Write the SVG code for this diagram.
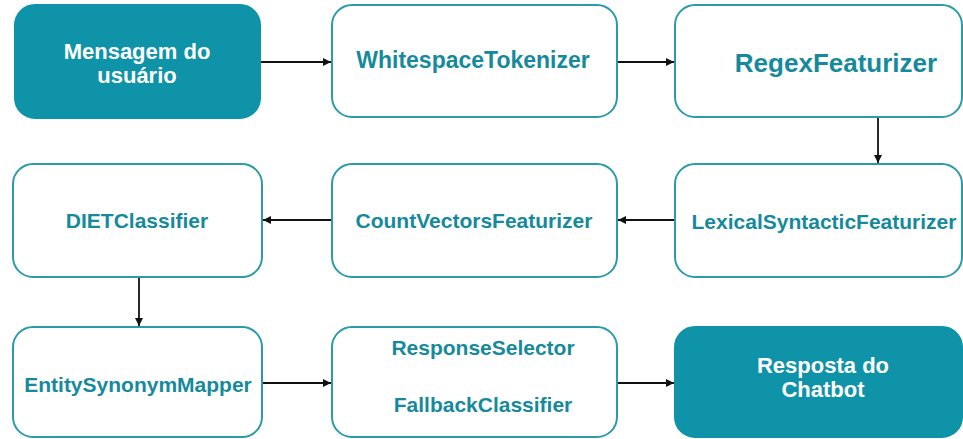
<svg xmlns="http://www.w3.org/2000/svg" width="963" height="439" viewBox="0 0 963 439">
<style>
.box{fill:#fff;stroke:#2b9ba9;stroke-width:2}
.fill{fill:#0e93a8;stroke:#0e93a8;stroke-width:2}
.t{font-family:"Liberation Sans",Arial,sans-serif;font-weight:bold;font-size:21px;fill:#168a9c;text-anchor:middle}
.w{fill:#fff;font-size:22px}
.c{stroke:#111;stroke-width:1.8;fill:none;marker-end:url(#ah)}
</style>
<defs>
<marker id="ah" markerWidth="9" markerHeight="9" refX="8" refY="4.5" orient="auto" markerUnits="userSpaceOnUse">
<path d="M0,0.5 L8,4.5 L0,8.5 Z" fill="#111"/>
</marker>
</defs>
<rect width="963" height="439" fill="#fff"/>
<g id="connectors">
<line class="c" x1="261" y1="62" x2="331" y2="62"/>
<line class="c" x1="618" y1="62" x2="674" y2="62"/>
<line class="c" x1="878" y1="118" x2="878" y2="163"/>
<line class="c" x1="674" y1="220" x2="618" y2="220"/>
<line class="c" x1="331" y1="220" x2="263" y2="220"/>
<line class="c" x1="139" y1="277" x2="139" y2="326"/>
<line class="c" x1="263" y1="383" x2="331" y2="383"/>
<line class="c" x1="618" y1="383" x2="674" y2="383"/>
</g>
<g id="n1">
<rect class="fill" x="15" y="5" width="245" height="113" rx="20"/>
<text class="t w" x="137" y="59">Mensagem do</text>
<text class="t w" x="137" y="83">usuário</text>
</g>
<g id="n2">
<rect class="box" x="332" y="5" width="285" height="112" rx="20"/>
<text class="t" x="473" y="68" style="font-size:23px">WhitespaceTokenizer</text>
</g>
<g id="n3">
<rect class="box" x="675" y="5" width="287" height="112" rx="20"/>
<text class="t" x="836" y="72" style="font-size:26px">RegexFeaturizer</text>
</g>
<g id="n4">
<rect class="box" x="675" y="164" width="287" height="113" rx="20"/>
<text class="t" x="824" y="229">LexicalSyntacticFeaturizer</text>
</g>
<g id="n5">
<rect class="box" x="332" y="164" width="285" height="113" rx="20"/>
<text class="t" x="474" y="228">CountVectorsFeaturizer</text>
</g>
<g id="n6">
<rect class="box" x="13" y="164" width="249" height="113" rx="20"/>
<text class="t" x="137" y="228">DIETClassifier</text>
</g>
<g id="n7">
<rect class="box" x="13" y="327" width="249" height="110" rx="20"/>
<text class="t" x="138" y="392">EntitySynonymMapper</text>
</g>
<g id="n8">
<rect class="box" x="332" y="327" width="285" height="110" rx="20"/>
<text class="t" x="483" y="355">ResponseSelector</text>
<text class="t" x="483" y="412">FallbackClassifier</text>
</g>
<g id="n9">
<rect class="fill" x="675" y="327" width="287" height="110" rx="20"/>
<text class="t w" x="823" y="373">Resposta do</text>
<text class="t w" x="823" y="397">Chatbot</text>
</g>
</svg>
